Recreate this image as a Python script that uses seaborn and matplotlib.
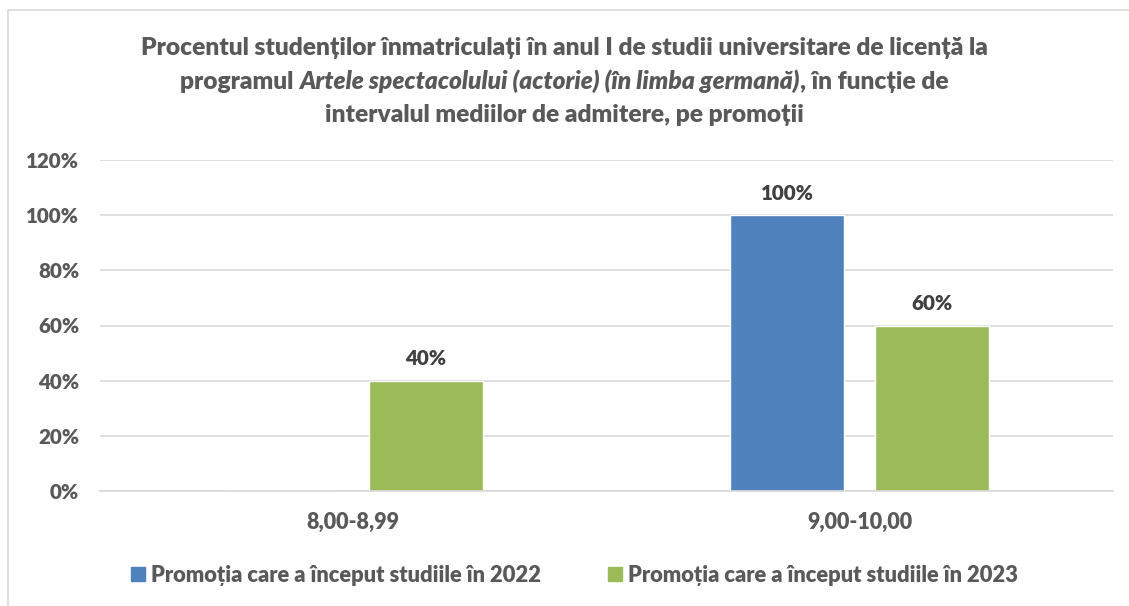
import matplotlib
matplotlib.use("Agg")
import matplotlib.pyplot as plt
import matplotlib.patches as mpatches
from matplotlib import font_manager
import seaborn as sns
import pandas as pd

categories = ["8,00-8,99", "9,00-10,00"]
promotions = ["Promoția care a început studiile în 2022",
              "Promoția care a început studiile în 2023"]
values_2022 = [0.0, 1.00]
values_2023 = [0.40, 0.60]
y_ticks = [0, 0.2, 0.4, 0.6, 0.8, 1.0, 1.2]
colors = ["#4F81BD", "#9BBB59"]

title_l1 = "Procentul studenților înmatriculați în anul I de studii universitare de licență la"
title_l2a = "programul "
title_l2b = "Artele spectacolului (actorie) (în limba germană)"
title_l2c = ", în funcție de"
title_l3 = "intervalul mediilor de admitere, pe promoții"

df = pd.DataFrame({
    "interval": categories * 2,
    "promotie": [promotions[0]] * 2 + [promotions[1]] * 2,
    "procent": values_2022 + values_2023,
})

sns.set_theme(style="white")
fam = ["Lato", "DejaVu Sans"]
plt.rcParams["font.family"] = fam


def lato_file(names):
    files = {f.fname.split("/")[-1]: f.fname for f in font_manager.fontManager.ttflist}
    for n in names:
        if n in files:
            return files[n]
    return None


# Calibri bold is heavier than Lato Bold, so go one step up
bold_file = lato_file(["Lato-ExtraBold.ttf", "Lato-Heavy.ttf", "Lato-Bold.ttf"])
bital_file = lato_file(["Lato-ExtraBoldItalic.ttf", "Lato-HeavyItalic.ttf",
                        "Lato-BoldItalic.ttf"])


def fp(size, italic=False):
    fn = bital_file if italic else bold_file
    if fn:
        return font_manager.FontProperties(fname=fn, size=size)
    return font_manager.FontProperties(family=fam, weight="bold",
                                       style="italic" if italic else "normal",
                                       size=size)


fig = plt.figure(figsize=(11.29, 6.06), dpi=100)
W, H = 1129, 606
r = fig.canvas.get_renderer()


def fit(txt, target_px):
    # font size giving the same text width as in the reference
    t = fig.text(0, 0, txt, fontproperties=fp(10))
    w = t.get_window_extent(r).width
    t.remove()
    return 10 * target_px / w


s_title = fit(title_l1, 854)
s_ytick = fit("100%", 53)
s_xtick = fit(categories[0], 93)
s_leg = fit(promotions[0], 392)

# chart border (cropped on the right/bottom)
fig.patches.append(mpatches.Rectangle((8 / W, -0.1), 1.2, 1 - 10 / H + 0.1,
                                      transform=fig.transFigure, fill=False,
                                      edgecolor="#d9d9d9", linewidth=1.2))

ax = fig.add_axes([100 / W, 1 - 491 / H, 1013 / W, 331 / H])
sns.barplot(data=df, x="interval", y="procent", hue="promotie",
            order=categories, hue_order=promotions, palette=colors,
            width=0.5726, gap=0.214, saturation=1, ax=ax, legend=False)

ax.set_ylim(0, 1.2)
ax.set_yticks(y_ticks)
ax.set_yticklabels([f"{int(round(v * 100))}%" for v in y_ticks])
ax.set_xlabel("")
ax.set_ylabel("")
ax.grid(axis="y", color="#d9d9d9", linewidth=1.2)
ax.set_axisbelow(True)
for s in ["top", "left", "right"]:
    ax.spines[s].set_visible(False)
ax.spines["bottom"].set_color("#d9d9d9")
ax.spines["bottom"].set_linewidth(1.2)
ax.tick_params(axis="y", length=0, pad=15, labelcolor="#595959")
ax.tick_params(axis="x", length=0, pad=15, labelcolor="#595959")
for lab in ax.get_yticklabels():
    lab.set_fontproperties(fp(s_ytick))
for lab in ax.get_xticklabels():
    lab.set_fontproperties(fp(s_xtick))

for cont in ax.containers:
    labels = [f"{int(round(v * 100))}%" if v > 0 else "" for v in cont.datavalues]
    ax.bar_label(cont, labels=labels, padding=9, fontproperties=fp(s_ytick),
                 color="#404040")

# legend
px = s_leg * 100 / 72
handles = [mpatches.Patch(color=c, label=p) for c, p in zip(colors, promotions)]
fig.legend(handles=handles, loc="center", bbox_to_anchor=(574 / W, 1 - 575 / H),
           ncol=2, frameon=False, handlelength=14 / px, handleheight=14 / px,
           handletextpad=6 / px, columnspacing=67 / px, prop=fp(s_leg),
           labelcolor="#595959")

# title
tcol = "#595959"
fig.text(0.5, 1 - 55 / H, title_l1, ha="center", va="baseline",
         fontproperties=fp(s_title), color=tcol)
fig.text(0.5, 1 - 122 / H, title_l3, ha="center", va="baseline",
         fontproperties=fp(s_title), color=tcol)
y2 = 1 - 89 / H
parts = [fig.text(0, y2, title_l2a, ha="left", va="baseline",
                  fontproperties=fp(s_title), color=tcol),
         fig.text(0, y2, title_l2b, ha="left", va="baseline",
                  fontproperties=fp(s_title, italic=True), color=tcol),
         fig.text(0, y2, title_l2c, ha="left", va="baseline",
                  fontproperties=fp(s_title), color=tcol)]
widths = [t.get_window_extent(r).width for t in parts]
x = (W - sum(widths)) / 2
for t, w in zip(parts, widths):
    t.set_x(x / W)
    x += w

fig.savefig("out.png", dpi=100)
